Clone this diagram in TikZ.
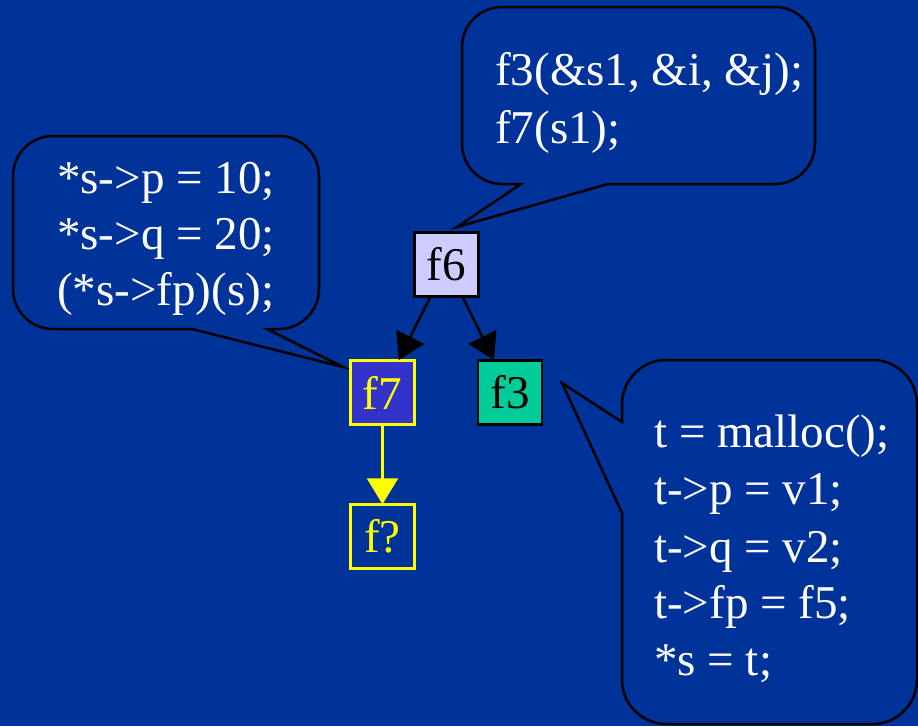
\documentclass[tikz,border=0pt]{standalone}
\usepackage{fontspec}
\setmainfont{Liberation Serif}
\usetikzlibrary{arrows.meta}
\definecolor{bgblue}{RGB}{0,51,153}
\definecolor{lav}{RGB}{204,204,255}
\definecolor{fviolet}{RGB}{51,51,204}
\definecolor{fgreen}{RGB}{0,204,153}
\definecolor{fyellow}{RGB}{255,255,0}
\tikzset{
  fbox/.style={draw=black, line width=2.5pt, minimum size=64pt, inner sep=0pt, font=\fontsize{47}{55}\selectfont},
  callout/.style={draw=black, line width=2.5pt, fill=bgblue},
  code/.style={anchor=base west, inner sep=0pt, text=white, font=\fontsize{47}{57}\selectfont},
  arr/.style={line width=2.5pt, -{Triangle[length=26pt,width=31pt]}, shorten >=-1pt}
}
\begin{document}
\begin{tikzpicture}[x=1pt,y=-1pt]
\fill[bgblue] (0,0) rectangle (918,726);
\useasboundingbox (0,0) rectangle (918,726);
\begin{scope}
\clip (0,0) rectangle (918,726);
% top callout
\draw[callout] (521,184) -- (457,227) -- (608,184) -- (775,184)
  .. controls (797,184) and (815,166) .. (815,144) -- (815,47)
  .. controls (815,25) and (797,7) .. (775,7) -- (502,7)
  .. controls (480,7) and (462,25) .. (462,47) -- (462,144)
  .. controls (462,166) and (480,184) .. (502,184) -- cycle;
% left callout
\draw[callout] (192,329) -- (343,367) -- (267,329) -- (279,329)
  .. controls (301,329) and (319,311) .. (319,289) -- (319,176)
  .. controls (319,154) and (301,136) .. (279,136) -- (53,136)
  .. controls (31,136) and (13,154) .. (13,176) -- (13,289)
  .. controls (13,311) and (31,329) .. (53,329) -- cycle;
% right callout
\draw[callout] (622,422) -- (562,383) -- (622,513) -- (622,680)
  .. controls (622,704) and (642,724) .. (666,724) -- (873,724)
  .. controls (897,724) and (917,704) .. (917,680) -- (917,404)
  .. controls (917,380) and (897,360) .. (873,360) -- (666,360)
  .. controls (642,360) and (622,380) .. (622,404) -- cycle;
\end{scope}
% code texts
\node[code] (ta) at (495,85) {f3(\&s1, \&i, \&j);};
\node[code] (tb) at (495,143) {f7(s1);};
\node[code] (la) at (57,193) {*s->p = 10;};
\node[code] (lb) at (57,249) {*s->q = 20;};
\node[code] (lc) at (57,305) {(*s->fp)(s);};
\node[code] (ra) at (654,447) {t = malloc();};
\node[code] (rb) at (654,504) {t->p = v1;};
\node[code] (rc) at (654,562) {t->q = v2;};
\node[code] (rd) at (654,618) {t->fp = f5;};
\node[code] (re) at (654,675) {*s = t;};
% boxes
\node[fbox, fill=lav, text=black] (f6) at (446.5,264.5) {f6};
\node[fbox, fill=fviolet, draw=fyellow, text=fyellow] (f7) at (382.5,392.5) {f7};
\node[fbox, fill=fgreen, text=black] (f3) at (510,392.5) {f3};
\node[fbox, fill=bgblue, draw=fyellow, text=fyellow] (fq) at (382.5,536.5) {f?};
% arrows
\draw[arr, black] (f6) -- (f7);
\draw[arr, black] (f6) -- (f3);
\draw[arr, fyellow] (f7) -- (fq);
\end{tikzpicture}
\end{document}
